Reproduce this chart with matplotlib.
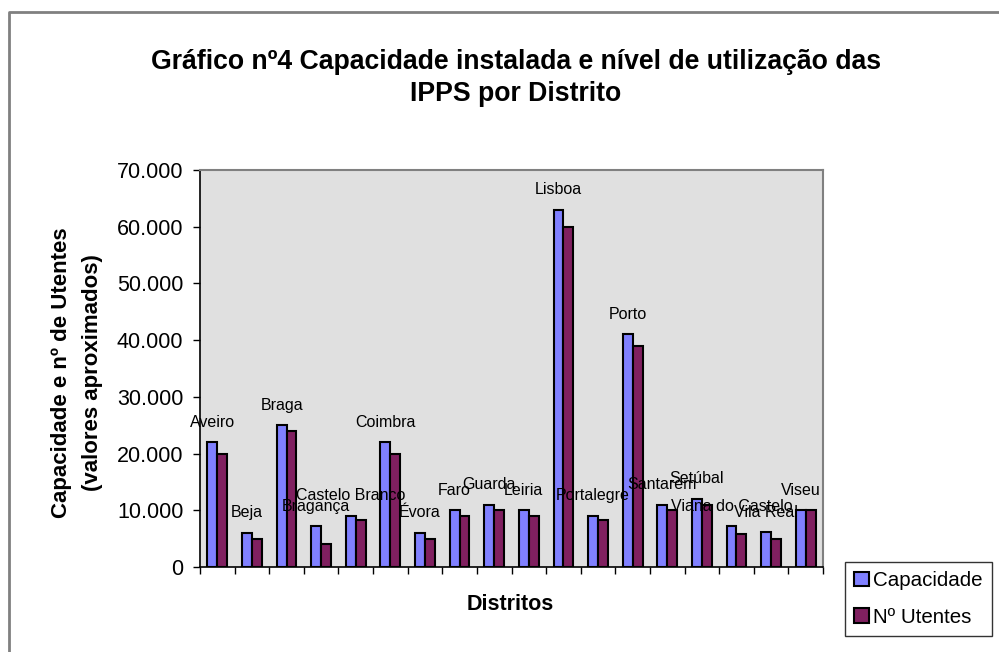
import numpy as np
import matplotlib
matplotlib.use("Agg")
import matplotlib.pyplot as plt
from matplotlib.ticker import FuncFormatter
from matplotlib.lines import Line2D

plt.rcParams['font.family'] = ['Liberation Sans', 'DejaVu Sans']

distritos = ["Aveiro", "Beja", "Braga", "Bragança", "Castelo Branco", "Coimbra",
             "Évora", "Faro", "Guarda", "Leiria", "Lisboa", "Portalegre", "Porto",
             "Santarem", "Setúbal", "Viana do Castelo", "Vila Real", "Viseu"]
capacidade = [22000, 6000, 25000, 7200, 9000, 22000, 6000, 10000, 11000, 10000,
              63000, 9000, 41000, 11000, 12000, 7200, 6100, 10000]
utentes = [20000, 5000, 24000, 4000, 8200, 20000, 5000, 9000, 10000, 9000,
           60000, 8200, 39000, 10000, 11000, 5800, 5000, 10000]

W, H = 999, 652
fig = plt.figure(figsize=(W / 100, H / 100), dpi=100)
ax = fig.add_axes([200 / W, 1 - 567 / H, 623 / W, 397 / H])
ax.set_facecolor("#E0E0E0")

x = np.arange(len(distritos))
w = 0.286
ax.bar(x - w / 2, capacidade, w, color="#8080FF", edgecolor="black", linewidth=1.5,
       label="Capacidade", zorder=3)
ax.bar(x + w / 2, utentes, w, color="#802060", edgecolor="black", linewidth=1.5,
       label="Nº Utentes", zorder=3)

# rotulos com o nome do distrito por cima da barra da capacidade
for xi, nome, c in zip(x, distritos, capacidade):
    ax.annotate(nome, (xi - w / 2, c), xytext=(0, 14.5), textcoords="offset points",
                ha="center", va="center", fontsize=11.5, zorder=4)

ax.set_xlim(-0.5, len(distritos) - 0.5)
ax.set_ylim(0, 70000)
ax.set_yticks(np.arange(0, 70001, 10000))
ax.yaxis.set_major_formatter(FuncFormatter(lambda v, p: f"{int(v):,}".replace(",", ".")))
ax.set_xticks(np.arange(-0.5, len(distritos), 1.0))
ax.set_xticklabels([])
ax.tick_params(axis="both", direction="out", length=5, width=1, color="black")
ax.tick_params(axis="y", labelsize=15.5, pad=7)

for s in ["top", "right"]:
    ax.spines[s].set_color("#808080")
    ax.spines[s].set_linewidth(1.5)
for s in ["left", "bottom"]:
    ax.spines[s].set_color("black")
    ax.spines[s].set_linewidth(1.2)

fig.text(77 / W, 1 - 373 / H, "Capacidade e nº de Utentes\n(valores aproximados)",
         rotation=90, ha="center", va="center", fontsize=16, fontweight="bold",
         linespacing=1.6)

fig.text(510 / W, 1 - 605 / H, "Distritos", ha="center", va="center",
         fontsize=15.5, fontweight="bold")

fig.text(516 / W, 1 - 78 / H, "Gráfico nº4 Capacidade instalada e nível de utilização das\nIPPS por Distrito",
         ha="center", va="center", fontsize=19.2, fontweight="bold", linespacing=1.3)

leg = fig.legend(loc="upper left", bbox_to_anchor=(845 / W, 1 - 562 / H),
                 fontsize=14.8, frameon=True, fancybox=False, borderaxespad=0,
                 handlelength=0.7, handleheight=0.7, handletextpad=0.2,
                 labelspacing=0.85, borderpad=0.45)
leg.get_frame().set_edgecolor("black")
leg.get_frame().set_linewidth(1.0)

# moldura exterior (so esquerda e topo visiveis)
fig.add_artist(Line2D([8.5 / W, 8.5 / W, 1.0], [0, 1 - 11.5 / H, 1 - 11.5 / H],
                      transform=fig.transFigure, color="#808080", linewidth=2))

fig.savefig("out.png", dpi=100)
